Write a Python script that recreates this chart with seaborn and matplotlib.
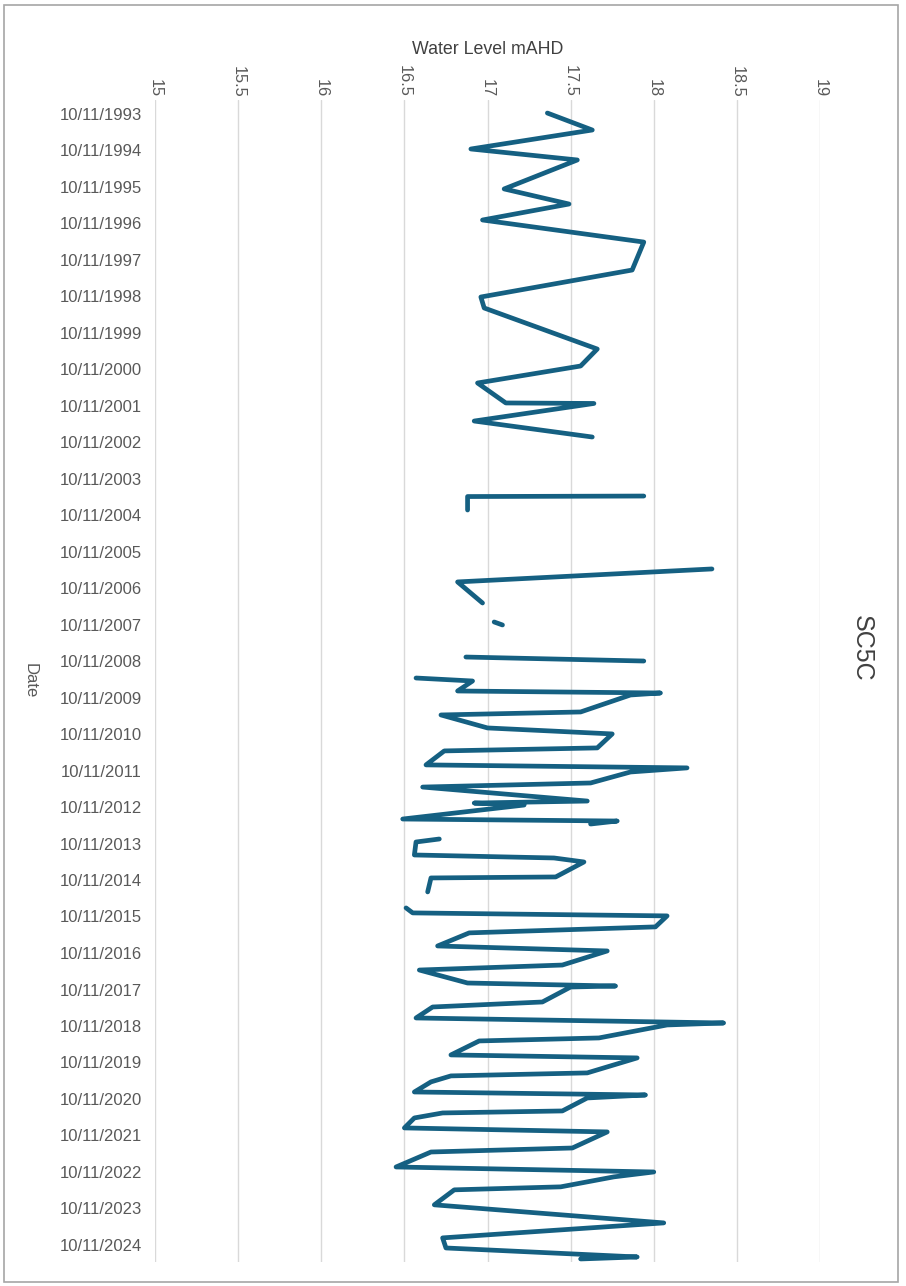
import numpy as np
import pandas as pd
import matplotlib
matplotlib.use("Agg")
import matplotlib.pyplot as plt
import matplotlib.dates as mdates
from matplotlib.patches import Rectangle
import seaborn as sns

# Bore SC5C water level readings (mAHD). NaN rows mark missing readings,
# which break the line.
dates = [
    "1993-10-31", "1994-04-19", "1994-10-26", "1995-02-13", "1995-11-30", "1996-04-29",
    "1996-10-06", "1997-05-15", "1998-02-19", "1998-11-16", "1999-03-06", "2000-04-20",
    "2000-10-07", "2001-03-26", "2001-10-12", "2001-10-17", "2002-04-11", "2002-09-18",
    "2003-06-01",
    "2004-05-01", "2004-05-06", "2004-09-18",
    "2005-06-01",
    "2006-05-01", "2006-09-08", "2007-04-07",
    "2007-07-01",
    "2007-10-14", "2007-11-13",
    "2008-05-01",
    "2008-09-29", "2008-11-08",
    "2009-01-15",
    "2009-04-27", "2009-05-27", "2009-09-04", "2009-09-24", "2009-10-14", "2010-04-02",
    "2010-05-02", "2010-09-09", "2010-11-08", "2011-03-28", "2011-04-27", "2011-09-14",
    "2011-10-14", "2011-11-24", "2012-03-13", "2012-04-23", "2012-09-10", "2012-09-30",
    "2012-10-20", "2013-03-09", "2013-03-29", "2013-04-28",
    "2013-07-01",
    "2013-09-25", "2013-10-25", "2014-03-04", "2014-04-03", "2014-05-13", "2014-10-10",
    "2014-10-20", "2015-03-09",
    "2015-06-01",
    "2015-08-16", "2015-10-05", "2015-11-04", "2016-02-22", "2016-04-22", "2016-08-31",
    "2016-10-20", "2017-03-10", "2017-04-29", "2017-09-06", "2017-10-06", "2017-10-16",
    "2018-03-15", "2018-05-04", "2018-08-22", "2018-10-11", "2018-10-31", "2019-03-10",
    "2019-04-09", "2019-08-27", "2019-09-26", "2020-02-23", "2020-03-24", "2020-05-23",
    "2020-09-01", "2020-10-01", "2020-10-31", "2021-03-10", "2021-03-30", "2021-05-19",
    "2021-08-27", "2021-10-06", "2022-03-16", "2022-04-25", "2022-09-22", "2022-11-11",
    "2022-12-30", "2023-04-09", "2023-05-09", "2023-10-06", "2024-04-04", "2024-09-01",
    "2024-12-11", "2025-03-11", "2025-03-31",
]

water_level = [
    17.36, 17.63, 16.90, 17.54, 17.10, 17.49,
    16.97, 17.94, 17.87, 16.96, 16.98, 17.66,
    17.56, 16.94, 17.11, 17.64, 16.92, 17.63,
    np.nan,
    17.94, 16.88, 16.88,
    np.nan,
    18.35, 16.82, 16.97,
    np.nan,
    17.04, 17.09,
    np.nan,
    16.87, 17.94,
    np.nan,
    16.57, 16.91, 16.82, 18.04, 17.86, 17.56,
    16.72, 17.00, 17.75, 17.66, 16.74, 16.63,
    18.20, 17.86, 17.62, 16.61, 17.60, 16.92,
    17.22, 16.49, 17.78, 17.62,
    np.nan,
    16.71, 16.57, 16.56, 17.40, 17.58, 17.41,
    16.66, 16.64,
    np.nan,
    16.51, 16.55, 18.08, 18.01, 16.89, 16.70,
    17.72, 17.45, 16.59, 16.88, 17.77, 17.50,
    17.33, 16.67, 16.57, 18.42, 18.08, 17.67,
    16.95, 16.78, 17.90, 17.60, 16.78, 16.66,
    16.56, 17.95, 17.60, 17.45, 16.73, 16.56,
    16.50, 17.72, 17.51, 16.66, 16.45, 18.00,
    17.76, 17.44, 16.80, 16.68, 18.06, 16.73,
    16.75, 17.90, 17.56,
]

x_ticks = [15, 15.5, 16, 16.5, 17, 17.5, 18, 18.5, 19]
tick_years = list(range(1993, 2025))

df = pd.DataFrame({"Date": pd.to_datetime(dates), "Level": water_level})
df["run"] = df["Level"].isna().cumsum()
df = df.dropna().reset_index(drop=True)

sns.set_theme(style="white")
plt.rcParams["font.family"] = ["Liberation Sans", "DejaVu Sans"]

fig = plt.figure(figsize=(9.06, 12.86), dpi=100)
ax = fig.add_axes([0.1711, 0.0187, 0.7340, 0.9035])

sns.lineplot(
    data=df, x="Level", y="Date", units="run", estimator=None, sort=False,
    color="#156082", linewidth=3.4, ax=ax, legend=False,
    solid_joinstyle="round", solid_capstyle="round",
)

ax.set_xlim(15, 19)
ax.set_ylim(pd.Timestamp("2025-04-30"), pd.Timestamp("1993-06-23"))

ax.set_xticks(x_ticks)
ax.set_xticklabels([f"{t:g}" for t in x_ticks])
ax.xaxis.tick_top()
ax.xaxis.set_label_position("top")
ax.tick_params(axis="x", labelrotation=-90, length=0, pad=2,
               labelsize=11.8, labelcolor="#595959")

ax.set_yticks([pd.Timestamp(f"{y}-11-10") for y in tick_years])
ax.yaxis.set_major_formatter(mdates.DateFormatter("%d/%m/%Y"))
ax.tick_params(axis="y", length=0, pad=9.5, labelsize=12, labelcolor="#595959")

ax.grid(axis="x", color="#D9D9D9", linewidth=1.0)
ax.grid(axis="y", visible=False)
ax.set_axisbelow(True)
for s in ax.spines.values():
    s.set_visible(False)

ax.set_xlabel("Water Level mAHD", fontsize=12.8, color="#404040", labelpad=8)
ax.set_ylabel("Date", fontsize=12, color="#595959", rotation=270, labelpad=21,
              va="center")

fig.text(862 / 906, 1 - 648 / 1286, "SC5C", rotation=270, fontsize=18,
         color="#404040", ha="center", va="center")

fig.add_artist(Rectangle((4 / 906, 4 / 1286), 894 / 906, 1277 / 1286,
                         transform=fig.transFigure, fill=False,
                         edgecolor="#A6A6A6", linewidth=1.2))

fig.savefig("out.png", dpi=100)
